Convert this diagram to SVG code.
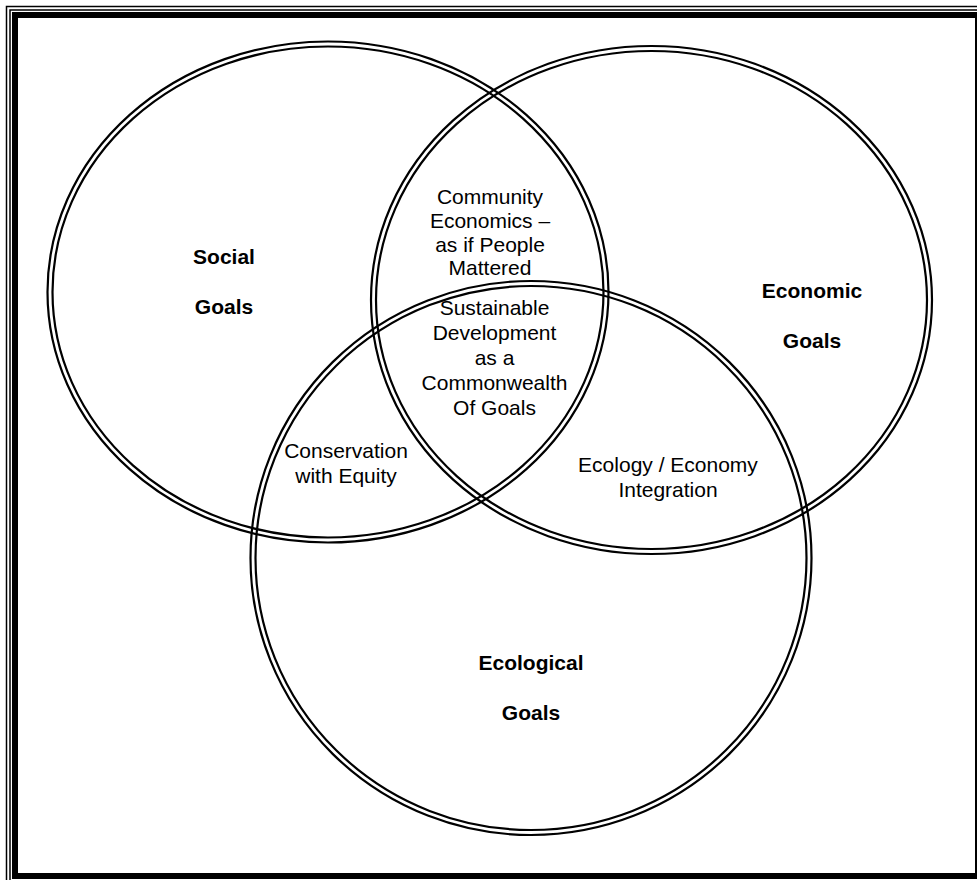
<svg xmlns="http://www.w3.org/2000/svg" width="977" height="880" viewBox="0 0 977 880">
<style>
.ring{fill:none;stroke:#000;stroke-width:2.2}
.lbl{font-family:"Liberation Sans",Arial,sans-serif;font-size:21px;fill:#000;text-anchor:middle}
.b{font-weight:bold}
</style>
<rect width="977" height="880" fill="#fff"/>
<g id="frame" fill="none" stroke="#000">
<rect x="6.5" y="6.5" width="990" height="890" stroke-width="1.5"/>
<rect x="10" y="10" width="990" height="890" stroke-width="1.5"/>
<rect x="15" y="15" width="963" height="861" stroke-width="6"/>
</g>
<g id="connectors"></g>
<g id="social">
<ellipse class="ring" cx="328" cy="292" rx="280.5" ry="250.5"/>
<ellipse class="ring" cx="328" cy="292" rx="275.5" ry="245.5"/>
<text class="lbl b" x="224" y="264">Social</text>
<text class="lbl b" x="224" y="314">Goals</text>
</g>
<g id="economic">
<ellipse class="ring" cx="651.5" cy="300" rx="280.5" ry="254"/>
<ellipse class="ring" cx="651.5" cy="300" rx="275.5" ry="249"/>
<text class="lbl b" x="812" y="298">Economic</text>
<text class="lbl b" x="812" y="348">Goals</text>
</g>
<g id="ecological">
<ellipse class="ring" cx="531" cy="558" rx="280.5" ry="277"/>
<ellipse class="ring" cx="531" cy="558" rx="275.5" ry="272"/>
<text class="lbl b" x="531" y="670">Ecological</text>
<text class="lbl b" x="531" y="720">Goals</text>
</g>
<g id="community">
<text class="lbl" x="490" y="204">Community</text>
<text class="lbl" x="490" y="228">Economics –</text>
<text class="lbl" x="490" y="252">as if People</text>
<text class="lbl" x="490" y="275">Mattered</text>
</g>
<g id="sustainable">
<text class="lbl" x="494.5" y="315">Sustainable</text>
<text class="lbl" x="494.5" y="340">Development</text>
<text class="lbl" x="494.5" y="365">as a</text>
<text class="lbl" x="494.5" y="390">Commonwealth</text>
<text class="lbl" x="494.5" y="415">Of Goals</text>
</g>
<g id="conservation">
<text class="lbl" x="346" y="458">Conservation</text>
<text class="lbl" x="346" y="483">with Equity</text>
</g>
<g id="integration">
<text class="lbl" x="668" y="472">Ecology / Economy</text>
<text class="lbl" x="668" y="497">Integration</text>
</g>
</svg>
